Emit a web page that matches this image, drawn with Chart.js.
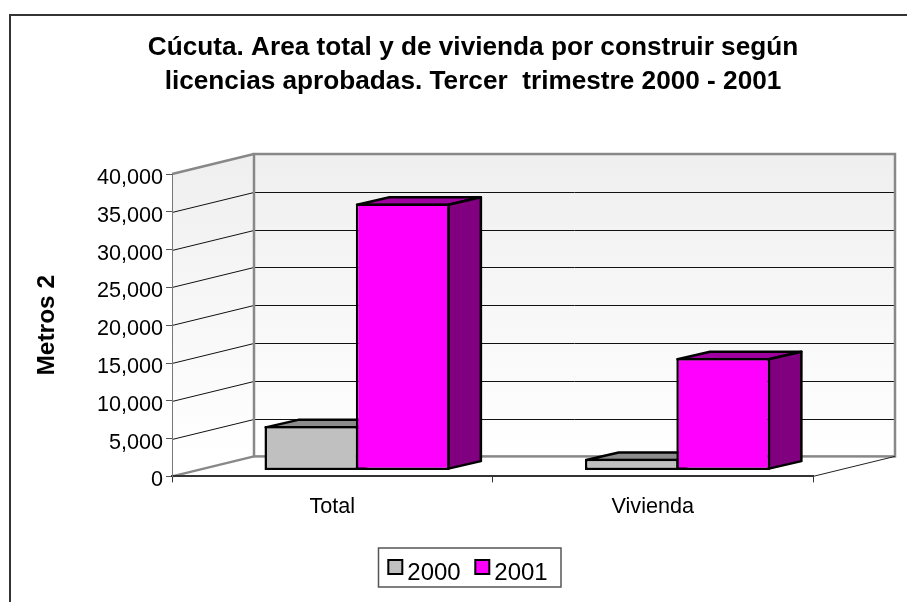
<!DOCTYPE html>
<html><head><meta charset="utf-8">
<style>html,body{margin:0;padding:0;background:#fff}#w{width:907px;height:602px;position:relative}</style>
<script src="https://cdn.jsdelivr.net/npm/chart.js@4"></script></head>
<body><div id="w"><canvas id="c" width="907" height="602"></canvas></div>
<script>
const categories = ['Total', 'Vivienda'];
const values2000 = [5860, 1550];
const values2001 = [35300, 14870];
const seriesNames = ['2000', '2001'];
const titleLines = ['Cúcuta. Area total y de vivienda por construir según', 'licencias aprobadas. Tercer  trimestre 2000 - 2001'];
const yTickStep = 5000;
const yMax = 40000;
const FONT = '"Liberation Sans", Arial, sans-serif';
const wall = {dx: 82, dy: -20};
const bar = {ox: 24.8, oy: -6, dx: 32.5, dy: -7.5};
const sideCols = ['#8c8c8c', '#800080'];
const topCols = ['#8c8c8c', '#a000a0'];
const swatchCols = ['#c0c0c0', '#ff00ff'];
function drawFaces(ch, i) {
  const c = ch.ctx;
  ch.getDatasetMeta(i).data.forEach(el => {
    const p = el.getProps(['x', 'y', 'base', 'width'], true);
    const l = p.x - p.width / 2 + 1.25, r = p.x + p.width / 2 - 1.25, t = p.y + 1.25, b = p.base - 1.25;
    c.strokeStyle = '#000'; c.lineWidth = 2.5; c.lineJoin = 'round';
    c.fillStyle = topCols[i];
    c.beginPath(); c.moveTo(l, t); c.lineTo(l + bar.dx, t + bar.dy); c.lineTo(r + bar.dx, t + bar.dy); c.lineTo(r, t); c.closePath(); c.fill(); c.stroke();
    c.fillStyle = sideCols[i];
    c.beginPath(); c.moveTo(r, t); c.lineTo(r + bar.dx, t + bar.dy); c.lineTo(r + bar.dx, b + bar.dy); c.lineTo(r, b); c.closePath(); c.fill(); c.stroke();
  });
}
const threeD = {
  id: 'threeD',
  beforeDraw(ch) {
    const c = ch.ctx, a = ch.chartArea, y = ch.scales.y;
    ch.titleBlock.left = 39; ch.titleBlock.right = 907;
    const lg = ch.legend;
    lg.left = 28; lg.right = 907; lg.top = 548; lg.adjustHitBoxes();
    c.save();
    c.fillStyle = '#fff'; c.fillRect(0, 0, ch.width, ch.height);
    c.strokeStyle = '#333'; c.lineWidth = 2;
    c.beginPath(); c.moveTo(10, 602); c.lineTo(10, 15); c.lineTo(907, 15); c.stroke();
    const L = a.left, R = a.right, T = a.top, B = a.bottom, dx = wall.dx, dy = wall.dy;
    const g = c.createLinearGradient(0, T + dy, 0, B + dy);
    g.addColorStop(0, '#efefef'); g.addColorStop(1, '#ffffff');
    c.fillStyle = g;
    c.fillRect(L + dx, T + dy, R - L, B - T);
    c.beginPath(); c.moveTo(L, T); c.lineTo(L + dx, T + dy); c.lineTo(L + dx, B + dy); c.lineTo(L, B); c.closePath(); c.fill();
    c.strokeStyle = '#111'; c.lineWidth = 1;
    y.ticks.forEach(t => {
      if (t.value === 0 || t.value === yMax) return;
      const p = Math.round(y.getPixelForValue(t.value)) + 0.5;
      c.beginPath(); c.moveTo(L, p); c.lineTo(L + dx, p + dy); c.lineTo(R + dx, p + dy); c.stroke();
    });
    c.strokeStyle = '#888'; c.lineWidth = 2.5;
    c.strokeRect(L + dx, T + dy, R - L, B - T);
    c.beginPath(); c.moveTo(L, T); c.lineTo(L + dx, T + dy); c.moveTo(L, B); c.lineTo(L + dx, B + dy); c.stroke();
    c.lineWidth = 1; c.strokeStyle = '#222';
    c.beginPath(); c.moveTo(R, B); c.lineTo(R + dx, B + dy); c.stroke();
    c.strokeStyle = '#555'; c.lineWidth = 1.5;
    c.strokeRect(378.5, 548, 182.5, 39);
    c.restore();
  },
  beforeDatasetsDraw(ch) {
    ch.ctx.save();
    ch.ctx.translate(bar.ox, bar.oy);
  },
  beforeDatasetDraw(ch, args) {
    if (args.index === 1) return false;   // the nearer-right series is painted last, below
    drawFaces(ch, args.index);
  },
  afterDatasetsDraw(ch) {
    drawFaces(ch, 1);
    ch.getDatasetMeta(1).controller.draw();
    ch.ctx.restore();
  },
  afterDraw(ch) {
    const c = ch.ctx;
    c.save();
    ch.legend.legendHitBoxes.forEach((h, i) => {
      c.fillStyle = swatchCols[i];
      c.strokeStyle = '#000'; c.lineWidth = 2;
      c.fillRect(h.left + 1, 560, 14, 14); c.strokeRect(h.left + 1, 560, 14, 14);
    });
    c.restore();
  }
};
new Chart(document.getElementById('c'), {
  type: 'bar',
  data: {
    labels: categories,
    datasets: [
      {label: seriesNames[0], data: values2000, backgroundColor: swatchCols[0], borderColor: '#000', borderWidth: 2.5, borderSkipped: false},
      {label: seriesNames[1], data: values2001, backgroundColor: swatchCols[1], borderColor: '#000', borderWidth: 2.5, borderSkipped: false}
    ]
  },
  options: {
    responsive: false, animation: false, devicePixelRatio: 1,
    layout: {padding: {left: 33, right: 94, top: 0, bottom: 0}},
    datasets: {bar: {categoryPercentage: 0.57, barPercentage: 1.027}},
    plugins: {
      title: {display: true, text: titleLines, color: '#000', font: {family: FONT, size: 26.2, weight: 'bold', lineHeight: 1.3}, padding: {top: 31, bottom: 74.9}},
      legend: {display: true, position: 'bottom', labels: {font: {family: FONT, size: 24}, color: '#000', boxWidth: 8, boxHeight: 14, padding: 13.6,
        generateLabels: ch => ch.data.datasets.map((d, i) => ({text: d.label, fillStyle: 'rgba(0,0,0,0)', strokeStyle: 'rgba(0,0,0,0)', lineWidth: 0, datasetIndex: i}))}},
      tooltip: {enabled: false}
    },
    scales: {
      x: {
        grid: {drawOnChartArea: false, tickLength: 6, color: '#333'}, border: {display: true, color: '#333', width: 2},
        ticks: {font: {family: FONT, size: 21.6}, color: '#000', padding: 12, maxRotation: 0},
        afterFit(s) { s.height = 78; }
      },
      y: {
        min: 0, max: yMax, afterFit(s) { s.width = 139; },
        grid: {drawOnChartArea: false, tickLength: 6, color: '#555'}, border: {display: true, color: '#777', width: 1},
        title: {display: true, text: 'Metros 2', color: '#000', font: {family: FONT, size: 24.5, weight: 'bold'}, padding: {top:0,bottom:0}},
        ticks: {stepSize: yTickStep, font: {family: FONT, size: 21.6}, color: '#000', padding: 3, labelOffset: 4,
          callback: v => v.toLocaleString('en-US')}
      }
    }
  },
  plugins: [threeD]
});
</script></body></html>
